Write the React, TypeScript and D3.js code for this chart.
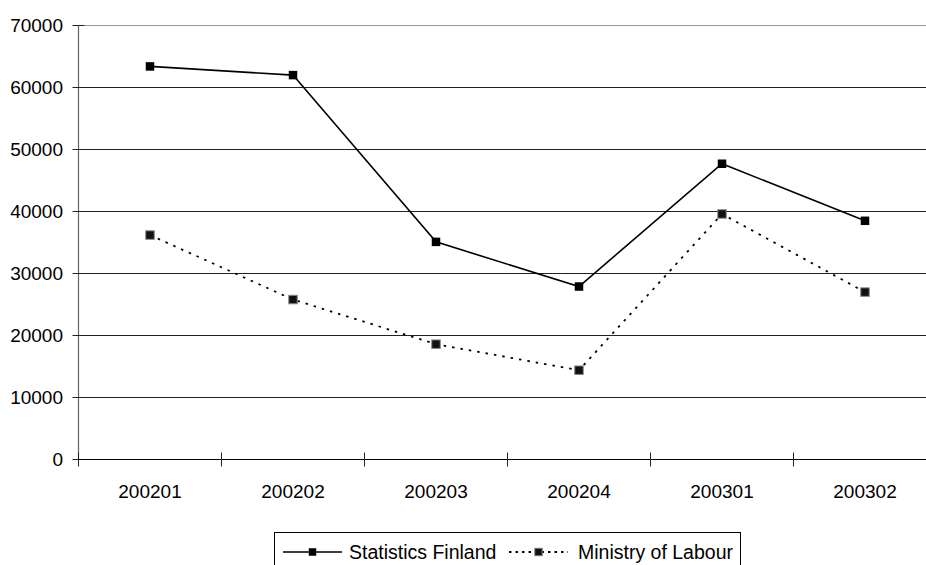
import React from "react";
import * as d3 from "d3";

// Quarters on the category axis
const periods = ["200201", "200202", "200203", "200204", "200301", "200302"];
// Series values per quarter
const statisticsFinland = [63400, 62000, 35100, 27900, 47700, 38500];
const ministryOfLabour = [36200, 25800, 18600, 14400, 39600, 27000];
// Value axis ticks
const yTicks = [0, 10000, 20000, 30000, 40000, 50000, 60000, 70000];

const W = 926;
const H = 565;
const FONT = "'Liberation Sans', Arial, sans-serif";

export default function App() {
  const left = 78.5;
  const band = 143;
  const x = d3
    .scaleBand<string>()
    .domain(periods)
    .range([left, left + band * periods.length])
    .paddingInner(0)
    .paddingOuter(0);
  const y = d3.scaleLinear().domain([0, 70000]).range([459.5, 25.5]);
  const cx = (p: string) => (x(p) as number) + x.bandwidth() / 2;
  const right = left + band * periods.length;

  const line = d3
    .line<number>()
    .x((_, i) => cx(periods[i]))
    .y((v) => y(v));

  const m = 8.5;

  return (
    <svg
      width={W}
      height={H}
      style={{ position: "absolute", left: 0, top: 0, background: "#fff" }}
      fontFamily={FONT}
    >
      <rect x={0} y={0} width={W} height={H} fill="#fff" />
      {/* horizontal gridlines */}
      {yTicks.slice(1).map((t) => (
        <line
          key={`g${t}`}
          x1={left}
          x2={right}
          y1={y(t)}
          y2={y(t)}
          stroke={t === 70000 ? "#9a9a9a" : "#222"}
          strokeWidth={1}
        />
      ))}
      {/* value axis */}
      <line x1={left} x2={left} y1={y(70000)} y2={y(0)} stroke="#666" strokeWidth={1.2} />
      {yTicks.map((t) => (
        <g key={`yt${t}`}>
          <line x1={left - 6} x2={left + 6} y1={y(t)} y2={y(t)} stroke="#222" />
          <text
            x={63}
            y={y(t)}
            dy="0.35em"
            textAnchor="end"
            fontSize={19}
            fill="#000"
          >
            {t}
          </text>
        </g>
      ))}
      {/* category axis */}
      <line x1={left} x2={right} y1={y(0)} y2={y(0)} stroke="#000" strokeWidth={1.2} />
      {periods.map((p, i) => (
        <g key={`xt${p}`}>
          <line
            x1={(x(p) as number) + (i === 0 ? 0 : 0)}
            x2={x(p) as number}
            y1={y(0) - 7}
            y2={y(0) + 7}
            stroke="#222"
          />
          <text x={cx(p)} y={498} textAnchor="middle" fontSize={19} fill="#000">
            {p}
          </text>
        </g>
      ))}

      {/* Statistics Finland */}
      <path d={line(statisticsFinland) || ""} fill="none" stroke="#000" strokeWidth={1.6} />
      {statisticsFinland.map((v, i) => (
        <rect
          key={`sf${i}`}
          x={cx(periods[i]) - m / 2}
          y={y(v) - m / 2}
          width={m}
          height={m}
          fill="#000"
        />
      ))}

      {/* Ministry of Labour */}
      <path
        d={line(ministryOfLabour) || ""}
        fill="none"
        stroke="#000"
        strokeWidth={1.8}
        strokeDasharray="2.5,6"
      />
      {ministryOfLabour.map((v, i) => (
        <rect
          key={`ml${i}`}
          x={cx(periods[i]) - m / 2}
          y={y(v) - m / 2}
          width={m}
          height={m}
          fill="#111"
          stroke="#888"
          strokeWidth={1}
        />
      ))}

      {/* legend */}
      <rect x={274.5} y={532.5} width={466} height={40} fill="#fff" stroke="#000" strokeWidth={1} />
      <line x1={283} x2={342} y1={552} y2={552} stroke="#000" strokeWidth={1.6} />
      <rect x={312.5 - 3.75} y={552 - 3.75} width={7.5} height={7.5} fill="#000" />
      <text x={349} y={559} fontSize={19.5} fill="#000">
        Statistics Finland
      </text>
      <line
        x1={509}
        x2={568}
        y1={552}
        y2={552}
        stroke="#000"
        strokeWidth={1.8}
        strokeDasharray="2.5,4"
      />
      <rect
        x={538.5 - 3.75}
        y={552 - 3.75}
        width={7.5}
        height={7.5}
        fill="#111"
        stroke="#888"
        strokeWidth={1}
      />
      <text x={578} y={559} fontSize={19.5} fill="#000">
        Ministry of Labour
      </text>
    </svg>
  );
}
